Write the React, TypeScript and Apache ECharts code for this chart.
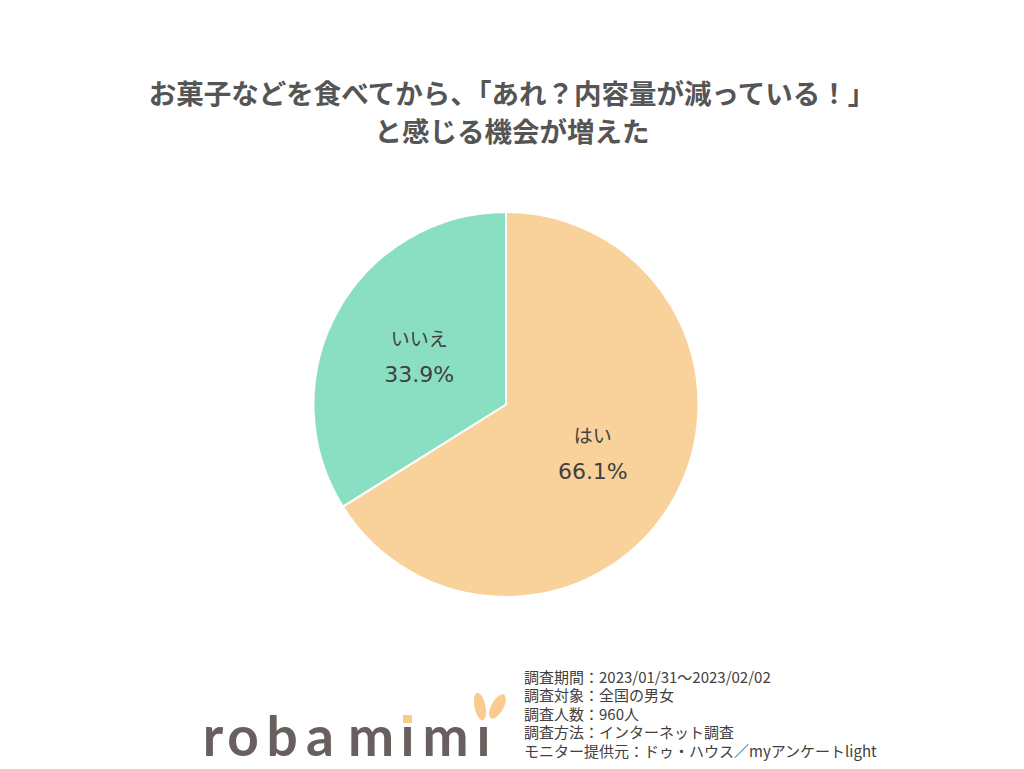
import React, { useEffect, useRef } from "react";
import * as echarts from "echarts";

const titleLines = ["お菓子などを食べてから、「あれ？内容量が減っている！」", "と感じる機会が増えた"];
const categories = ["はい", "いいえ"];
const values = [66.1, 33.9];
const sliceColors = ["#F8D19B", "#8ADFC3"];
const noteLines = [
  "調査期間：2023/01/31～2023/02/02",
  "調査対象：全国の男女",
  "調査人数：960人",
  "調査方法：インターネット調査",
  "モニター提供元：ドゥ・ハウス／myアンケートlight",
];
const logoChars = ["r", "o", "b", "a", "m", "ı", "m", "ı"];
const logoCenters = [213, 243, 282, 320, 371, 407.5, 445.5, 483.5];

export default function App() {
  const ref = useRef<HTMLDivElement>(null);
  useEffect(() => {
    document.body.style.margin = "0";
    const chart = echarts.init(ref.current!, null, { renderer: "svg" });
    const logoColor = "#6A5F5F";
    const orange = "#F9CB8F";
    const logoTexts = logoChars.map((ch, i) => ({
      type: "text",
      x: logoCenters[i],
      y: 735,
      style: {
        text: ch,
        fill: logoColor,
        font: 'bold 55px Lato',
        lineHeight: 40,
        textAlign: "center",
        textVerticalAlign: "middle",
      },
    }));
    const noteTexts = noteLines.map((line, i) => ({
      type: "text",
      x: 524,
      y: 676 + i * 18.6,
      style: {
        text: line,
        fill: "#404040",
        font: '15px "Noto Sans CJK JP"',
        lineHeight: 17,
        textVerticalAlign: "middle",
      },
    }));
    chart.setOption({
      animation: false,
      backgroundColor: "#ffffff",
      title: {
        text: titleLines.join("\n"),
        left: "center",
        top: 73,
        padding: 0,
        textStyle: {
          fontFamily: '"Noto Sans CJK JP"',
          fontSize: 27.5,
          fontWeight: "bold",
          color: "#555555",
          lineHeight: 38,
        },
      },
      series: [
        {
          type: "pie",
          center: [506, 404.5],
          radius: 192.5,
          startAngle: 90,
          clockwise: true,
          silent: true,
          itemStyle: { borderColor: "#ffffff", borderWidth: 2 },
          label: {
            show: true,
            position: "inside",
            formatter: (p: any) => `{n|${p.name}}\n{v|${p.value}%}`,
            rich: {
              n: {
                fontFamily: '"Noto Sans CJK JP"',
                fontSize: 19,
                color: "#404040",
                lineHeight: 37,
              },
              v: {
                fontFamily: '"DejaVu Sans"',
                fontSize: 22,
                color: "#404040",
                lineHeight: 37,
              },
            },
          },
          labelLine: { show: false },
          emphasis: { disabled: true },
          data: categories.map((c, i) => ({
            name: c,
            value: values[i],
            itemStyle: { color: sliceColors[i] },
          })),
        },
      ],
      graphic: [
        ...noteTexts,
        ...logoTexts,
        {
          type: "rect",
          shape: { x: 403, y: 715, width: 9, height: 8 },
          style: { fill: orange },
        },
        {
          type: "ellipse",
          x: 480,
          y: 706.5,
          rotation: 0.2,
          shape: { cx: 0, cy: 0, rx: 5.5, ry: 14 },
          style: { fill: orange },
        },
        {
          type: "ellipse",
          x: 497.5,
          y: 706.5,
          rotation: -0.5,
          shape: { cx: 0, cy: 0, rx: 6, ry: 13.5 },
          style: { fill: orange },
        },
      ],
    });
    return () => chart.dispose();
  }, []);
  return <div ref={ref} style={{ width: 1024, height: 769 }} />;
}
